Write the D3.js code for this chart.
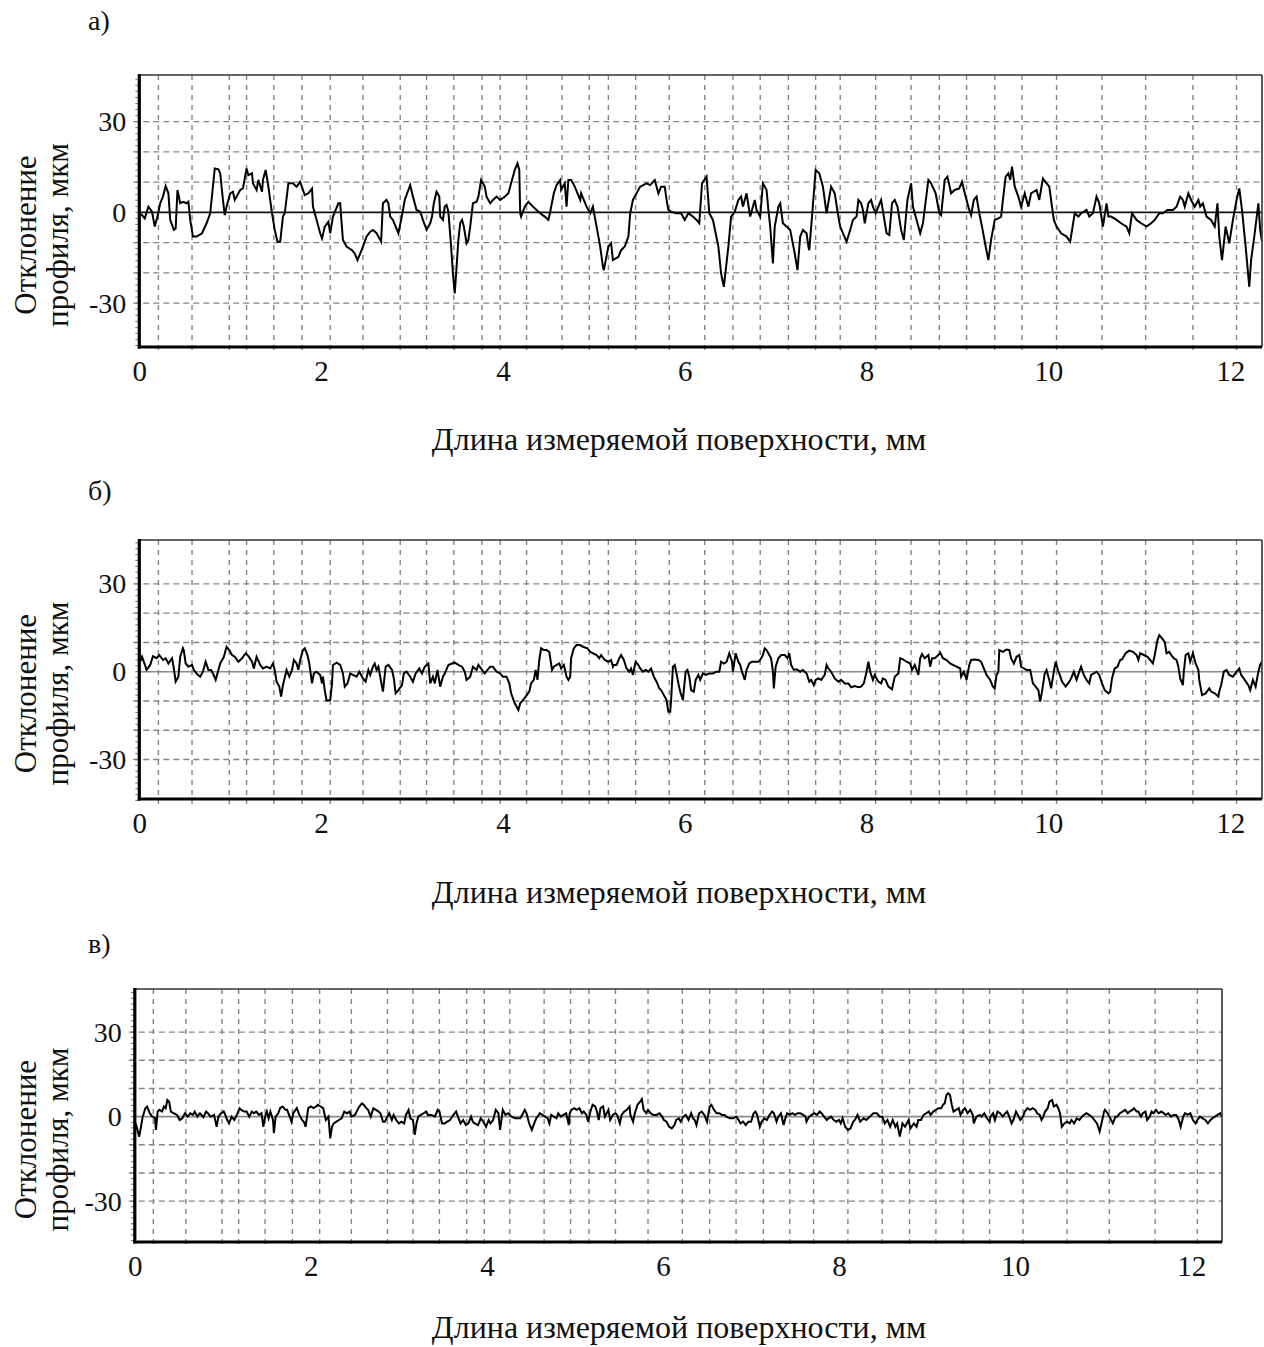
<!DOCTYPE html>
<html lang="ru">
<head>
<meta charset="utf-8">
<script src="https://cdn.jsdelivr.net/npm/d3@7"></script>
<style>
  html, body { margin: 0; padding: 0; background: #fff; }
  svg { display: block; }
  text { font-family: "Liberation Serif", "Times New Roman", serif; fill: #111; }
</style>
</head>
<body>
<svg id="chart" width="1264" height="1347"></svg>
<script>
// Surface profile traces: [position along surface, mm ; profile deviation, µm]
const profileA = [
[0.00,-0.3],[0.03,-0.9],[0.06,-2.0],[0.10,1.9],[0.14,0.2],[0.17,-4.7],[0.20,-1.4],[0.23,3.0],[0.26,5.2],[0.29,8.7],[0.32,6.3],[0.34,-2.5],[0.38,-5.8],[0.40,-5.3],[0.42,7.4],[0.45,3.0],[0.48,3.5],[0.52,3.0],[0.54,3.5],[0.56,-2.5],[0.59,-8.0],[0.63,-8.0],[0.69,-6.9],[0.74,-3.6],[0.78,-0.3],[0.81,8.5],[0.83,14.5],[0.87,14.2],[0.89,12.9],[0.92,4.1],[0.94,-0.9],[0.96,1.9],[1.00,6.3],[1.03,6.8],[1.05,4.1],[1.11,7.4],[1.14,7.9],[1.18,14.5],[1.20,12.3],[1.24,12.9],[1.25,9.6],[1.29,7.4],[1.31,10.7],[1.35,6.8],[1.36,10.7],[1.39,14.0],[1.42,8.5],[1.46,-0.3],[1.49,-5.8],[1.52,-9.7],[1.55,-9.7],[1.58,-1.4],[1.60,-0.3],[1.64,9.6],[1.69,9.6],[1.73,8.5],[1.77,10.1],[1.80,7.4],[1.82,5.7],[1.86,6.3],[1.90,7.9],[1.91,1.9],[1.94,-1.4],[1.97,-4.7],[1.99,-6.9],[2.01,-8.6],[2.04,-4.7],[2.08,-3.1],[2.10,-6.9],[2.13,-1.4],[2.19,3.0],[2.21,3.0],[2.22,-1.4],[2.24,-9.1],[2.28,-11.3],[2.34,-12.5],[2.37,-13.6],[2.40,-15.8],[2.43,-13.6],[2.46,-11.3],[2.50,-8.0],[2.54,-6.4],[2.57,-5.8],[2.61,-6.9],[2.65,-9.1],[2.66,-9.7],[2.68,3.0],[2.72,4.1],[2.74,3.0],[2.76,-1.4],[2.79,-2.5],[2.85,-6.9],[2.88,-2.5],[2.92,4.1],[2.96,7.4],[2.98,9.0],[3.01,5.2],[3.05,0.8],[3.09,0.2],
[3.12,-2.5],[3.16,-5.8],[3.20,-3.6],[3.22,-1.4],[3.24,3.0],[3.27,6.8],[3.30,5.2],[3.31,-1.4],[3.34,-2.5],[3.36,1.9],[3.38,2.4],[3.40,0.2],[3.43,-11.3],[3.45,-20.2],[3.47,-26.8],[3.49,-18.0],[3.51,-9.1],[3.53,-3.6],[3.55,-2.5],[3.57,-4.7],[3.60,-10.2],[3.62,-9.1],[3.64,-4.7],[3.67,3.0],[3.71,3.5],[3.73,5.2],[3.76,10.7],[3.80,8.5],[3.82,5.2],[3.86,3.0],[3.89,4.1],[3.93,5.2],[3.97,4.1],[4.02,5.2],[4.06,6.3],[4.09,9.6],[4.13,14.0],[4.16,16.2],[4.18,14.0],[4.19,-0.3],[4.20,-1.4],[4.24,1.9],[4.28,3.5],[4.33,1.9],[4.37,0.8],[4.41,-0.3],[4.46,-1.4],[4.50,-2.5],[4.52,0.2],[4.56,6.3],[4.59,9.0],[4.63,10.7],[4.64,7.4],[4.68,9.6],[4.70,1.9],[4.72,10.7],[4.75,10.7],[4.79,8.5],[4.85,4.1],[4.86,6.3],[4.92,1.9],[4.96,-0.3],[4.99,1.9],[5.03,-4.7],[5.07,-11.3],[5.10,-18.0],[5.11,-19.1],[5.16,-11.3],[5.19,-10.2],[5.21,-15.8],[5.27,-14.7],[5.30,-12.5],[5.34,-11.3],[5.38,-8.0],[5.40,-0.3],[5.43,4.1],[5.47,6.3],[5.51,8.5],[5.58,9.6],[5.62,9.0],[5.67,10.7],[5.71,6.3],[5.74,8.5],[5.78,8.5],[5.80,4.1],[5.82,0.8],[5.85,0.2],[5.91,-0.3],[5.96,-0.3],[6.00,-2.5],[6.04,-0.3],[6.09,-1.4],[6.13,-2.5],[6.16,-3.6],[6.19,9.6],[6.24,11.8],[6.27,-0.3],[6.31,-2.5],[6.37,-11.3],[6.40,-20.2],[6.43,-24.6],[6.48,-11.3],[6.51,-1.4],[6.55,0.2],[6.59,4.1],[6.62,5.2],[6.64,1.9],[6.68,6.3],[6.72,-1.4],[6.77,4.1],[6.79,0.8],[6.83,-1.4],[6.86,9.6],[6.90,7.4],[6.92,0.8],[6.94,-4.7],[6.97,-16.9],[6.99,-4.7],[7.03,1.9],[7.05,3.0],[7.08,-3.6],[7.12,-4.7],[7.16,-5.8],[7.21,-13.6],[7.24,-19.1],[7.27,-8.0],[7.30,-5.8],[7.34,-6.9],[7.36,-11.3],[7.37,-12.5],[7.40,-1.4],[7.44,14.0],[7.48,12.9],[7.52,8.5],[7.56,-0.3],[7.61,8.5],[7.65,6.3],[7.69,-1.4],
[7.71,-4.7],[7.74,-6.9],[7.78,-9.7],[7.82,-5.8],[7.85,-2.5],[7.89,-1.4],[7.91,4.1],[7.94,3.0],[7.96,0.8],[7.98,-3.6],[8.02,3.0],[8.05,4.1],[8.07,1.9],[8.10,-0.3],[8.13,1.9],[8.16,4.1],[8.22,-6.9],[8.25,-7.5],[8.28,3.0],[8.31,4.1],[8.34,1.9],[8.38,-5.8],[8.41,-9.1],[8.45,4.1],[8.49,9.6],[8.51,1.9],[8.57,-4.7],[8.59,-6.9],[8.62,-3.6],[8.68,10.7],[8.71,9.6],[8.76,6.3],[8.80,-0.3],[8.82,-0.9],[8.86,10.7],[8.89,11.8],[8.93,6.3],[8.97,7.4],[9.02,7.9],[9.05,10.1],[9.09,5.2],[9.13,0.8],[9.15,-0.9],[9.18,4.1],[9.21,5.2],[9.24,-0.3],[9.27,-4.7],[9.31,-11.3],[9.34,-15.8],[9.37,-9.1],[9.41,-2.5],[9.45,-2.0],[9.48,-1.4],[9.50,4.1],[9.53,11.8],[9.56,12.9],[9.58,10.7],[9.60,15.1],[9.63,8.5],[9.67,5.2],[9.70,1.9],[9.74,6.3],[9.78,1.9],[9.81,6.3],[9.87,7.4],[9.90,4.1],[9.94,11.2],[9.98,9.6],[10.01,8.5],[10.06,-2.5],[10.09,-4.7],[10.14,-6.9],[10.20,-8.0],[10.24,-9.7],[10.29,-0.3],[10.33,-1.4],[10.36,-0.3],[10.42,0.8],[10.45,-1.4],[10.49,-0.3],[10.53,5.2],[10.56,3.0],[10.60,-4.7],[10.64,3.0],[10.66,-1.4],[10.69,-1.4],[10.75,-2.5],[10.80,-3.6],[10.86,-4.7],[10.89,-6.9],[10.92,-0.3],[10.97,-2.5],[11.02,-3.6],[11.08,-4.7],[11.13,-3.6],[11.17,-2.5],[11.22,-0.3],[11.26,-0.3],[11.31,0.8],[11.37,0.8],[11.41,1.9],[11.45,5.2],[11.48,4.1],[11.50,1.9],[11.54,6.3],[11.57,4.1],[11.61,1.9],[11.65,4.1],[11.67,1.9],[11.70,3.0],[11.74,-1.4],[11.79,-2.5],[11.83,-4.7],[11.86,3.0],[11.88,-8.0],[11.91,-15.8],[11.95,-4.7],[11.99,-10.2],[12.03,-2.5],[12.07,4.1],[12.10,7.9],[12.13,0.8],[12.17,-11.3],[12.21,-24.6],[12.23,-15.8],[12.27,-6.9],[12.31,3.0],[12.33,-5.8],[12.35,-9.7]
];

const profileB = [
[0.01,3.4],[0.03,5.1],[0.05,3.4],[0.08,0.6],[0.12,2.3],[0.15,5.3],[0.19,4.6],[0.22,5.7],[0.26,4.0],[0.29,4.6],[0.32,2.8],[0.36,4.6],[0.38,1.1],[0.40,-3.4],[0.43,-1.7],[0.45,5.1],[0.48,8.0],[0.49,7.2],[0.51,2.8],[0.54,1.7],[0.58,2.3],[0.60,0.6],[0.63,-0.6],[0.67,-1.7],[0.70,0.0],[0.73,3.4],[0.76,0.6],[0.79,0.6],[0.81,-0.6],[0.84,-2.8],[0.87,0.6],[0.89,2.8],[0.93,5.1],[0.96,8.5],[0.99,7.4],[1.02,5.7],[1.05,5.1],[1.09,3.4],[1.13,4.6],[1.17,6.3],[1.20,5.3],[1.24,3.4],[1.26,1.1],[1.29,5.1],[1.33,2.3],[1.36,1.1],[1.40,1.7],[1.44,1.1],[1.47,2.8],[1.49,0.6],[1.51,-3.4],[1.54,-5.1],[1.56,-8.5],[1.58,-4.6],[1.62,0.6],[1.65,-1.7],[1.68,0.6],[1.70,4.0],[1.73,2.8],[1.75,0.6],[1.77,4.0],[1.80,7.4],[1.82,8.0],[1.85,5.7],[1.87,2.8],[1.90,-4.0],[1.92,-0.6],[1.95,0.0],[1.99,-1.1],[2.01,-4.0],[2.02,-1.7],[2.04,-6.3],[2.06,-9.9],[2.10,-9.7],[2.12,-4.0],[2.13,2.3],[2.17,3.1],[2.21,2.3],[2.24,-0.6],[2.26,-5.1],[2.29,-4.0],[2.32,-0.6],[2.35,-1.1],[2.39,-1.7],[2.42,0.0],[2.46,-2.3],[2.49,-3.4],[2.52,0.6],[2.54,-1.1],[2.57,1.7],[2.59,2.8],[2.61,0.6],[2.63,1.7],[2.65,-1.7],[2.68,-6.8],[2.71,1.7],[2.74,2.3],[2.78,0.6],[2.80,-2.3],[2.82,-7.4],[2.85,-6.3],[2.89,-4.6],[2.91,-0.6],[2.94,0.0],[2.98,-1.7],[3.01,-3.4],[3.04,-0.6],[3.08,1.1],[3.11,-0.6],[3.14,1.7],[3.18,2.8],[3.20,-4.0],[3.23,-1.7],[3.25,-4.0],[3.28,0.6],[3.31,-5.1],[3.34,-1.7],[3.36,-0.6],[3.40,2.3],[3.44,2.8],[3.47,3.1],[3.51,2.3],[3.55,1.7],[3.58,0.0],[3.60,-2.8],[3.64,-1.7],[3.67,1.7],[3.71,0.6],[3.73,2.3],[3.77,0.6],[3.80,-0.6],[3.83,0.6],[3.86,1.7],[3.89,1.7],[3.93,0.0],[3.97,-0.6],[4.00,-1.7],[4.04,-1.7],[4.07,-4.0],[4.09,-7.4],[4.13,-10.8],[4.17,-13.1],
[4.19,-10.8],[4.22,-9.7],[4.25,-8.5],[4.29,-6.8],[4.31,-4.0],[4.34,-2.8],[4.36,0.6],[4.38,-2.8],[4.40,4.0],[4.42,8.0],[4.45,7.4],[4.48,7.4],[4.51,6.8],[4.54,0.6],[4.56,1.7],[4.59,2.3],[4.62,2.8],[4.64,1.1],[4.67,2.3],[4.70,-1.7],[4.72,-2.8],[4.74,-1.7],[4.75,4.6],[4.78,8.0],[4.81,9.1],[4.85,9.1],[4.88,8.5],[4.93,8.0],[4.96,6.8],[4.99,6.3],[5.03,5.7],[5.06,4.6],[5.08,5.7],[5.12,4.0],[5.16,3.4],[5.19,4.0],[5.21,1.7],[5.22,2.3],[5.25,2.3],[5.28,4.6],[5.30,5.7],[5.33,4.0],[5.36,1.1],[5.39,0.0],[5.41,1.1],[5.43,-1.1],[5.46,3.4],[5.49,2.3],[5.51,1.1],[5.54,0.0],[5.57,0.6],[5.60,0.0],[5.63,1.1],[5.66,-1.7],[5.69,-3.4],[5.72,-5.7],[5.74,-6.3],[5.77,-8.0],[5.80,-9.7],[5.82,-13.7],[5.84,-13.7],[5.85,-9.7],[5.87,1.7],[5.89,2.3],[5.91,-0.6],[5.93,-4.0],[5.95,-6.8],[5.98,-9.7],[5.99,-6.3],[6.01,0.0],[6.03,0.6],[6.05,-1.7],[6.07,-6.3],[6.10,-6.8],[6.12,-2.8],[6.15,-1.1],[6.17,-2.8],[6.20,-0.6],[6.23,-1.1],[6.27,-0.6],[6.31,-0.6],[6.35,0.0],[6.38,0.0],[6.40,3.4],[6.43,2.8],[6.46,3.4],[6.49,6.3],[6.52,3.4],[6.53,0.0],[6.56,6.3],[6.59,3.4],[6.61,2.3],[6.63,0.0],[6.66,-2.8],[6.68,0.6],[6.71,2.8],[6.74,3.4],[6.77,3.4],[6.81,3.4],[6.83,4.0],[6.86,5.7],[6.88,8.0],[6.90,7.4],[6.93,5.7],[6.95,4.6],[6.97,0.0],[6.98,-5.7],[7.00,1.7],[7.03,4.6],[7.06,5.7],[7.10,5.7],[7.13,4.6],[7.15,6.3],[7.17,2.3],[7.20,0.6],[7.23,0.8],[7.27,0.0],[7.30,0.6],[7.34,-0.6],[7.37,-3.4],[7.39,-2.8],[7.42,-4.6],[7.44,-2.8],[7.47,-2.3],[7.50,-2.8],[7.54,-1.1],[7.56,2.3],[7.58,1.1],[7.61,0.0],[7.65,-2.3],[7.69,-3.4],[7.72,-2.8],[7.76,-4.0],[7.80,-4.0],[7.83,-5.3],[7.87,-4.9],[7.91,-5.3],[7.94,-5.1],[7.97,-4.0],[8.00,0.0],[8.02,3.4],[8.04,0.0],[8.07,-2.8],[8.09,-1.1],[8.13,-3.4],[8.16,-4.0],[8.18,-2.3],[8.21,-2.8],[8.24,-5.1],
[8.28,-6.0],[8.31,-1.7],[8.35,-0.6],[8.37,4.6],[8.40,4.2],[8.44,3.4],[8.48,2.8],[8.50,0.6],[8.53,2.3],[8.57,-1.1],[8.59,4.6],[8.61,6.0],[8.64,4.6],[8.68,5.7],[8.70,1.7],[8.72,4.6],[8.75,4.6],[8.79,5.7],[8.81,6.5],[8.84,4.6],[8.88,4.0],[8.92,2.8],[8.95,2.3],[8.99,1.7],[9.03,1.1],[9.04,-1.7],[9.07,0.0],[9.10,-2.8],[9.13,2.3],[9.15,4.0],[9.19,4.2],[9.23,4.0],[9.26,3.4],[9.29,1.1],[9.32,-1.1],[9.36,-2.8],[9.39,-5.1],[9.41,-5.7],[9.43,-1.1],[9.45,0.0],[9.46,7.4],[9.50,6.8],[9.54,7.6],[9.57,7.4],[9.59,4.6],[9.62,2.8],[9.65,5.1],[9.68,5.7],[9.70,1.7],[9.73,1.1],[9.76,0.6],[9.80,0.6],[9.83,-4.0],[9.86,-5.1],[9.89,-6.3],[9.91,-10.2],[9.93,-6.8],[9.96,-0.6],[9.98,0.6],[10.01,-2.8],[10.03,-5.7],[10.06,0.0],[10.08,3.4],[10.11,0.0],[10.12,-0.6],[10.15,-3.4],[10.19,-5.1],[10.23,-3.4],[10.25,-2.3],[10.28,0.0],[10.31,-2.8],[10.34,0.0],[10.36,1.7],[10.39,-1.1],[10.42,-2.8],[10.45,-4.0],[10.47,-1.1],[10.50,-0.6],[10.53,0.0],[10.56,-1.1],[10.59,-4.0],[10.62,-6.3],[10.66,-7.4],[10.68,-6.8],[10.70,-2.3],[10.73,1.1],[10.76,1.7],[10.79,4.0],[10.81,4.2],[10.85,6.3],[10.89,7.2],[10.93,6.8],[10.97,5.7],[10.99,4.0],[11.01,6.3],[11.05,5.7],[11.09,5.1],[11.12,4.0],[11.15,2.8],[11.17,5.7],[11.20,10.8],[11.22,12.5],[11.25,11.4],[11.28,10.2],[11.30,6.3],[11.33,6.8],[11.35,5.7],[11.38,4.6],[11.41,4.0],[11.43,1.7],[11.45,-2.3],[11.48,-4.6],[11.49,0.0],[11.51,5.7],[11.54,6.3],[11.56,3.4],[11.59,6.3],[11.62,2.8],[11.65,0.6],[11.66,-2.8],[11.69,-8.0],[11.73,-7.4],[11.77,-5.7],[11.79,-6.8],[11.83,-7.4],[11.87,-8.5],[11.88,-6.8],[11.90,-4.6],[11.93,0.0],[11.96,0.6],[11.99,-1.1],[12.03,-1.7],[12.07,0.0],[12.10,1.1],[12.12,-1.1],[12.16,-2.8],[12.20,-4.6],[12.22,-6.3],[12.25,-2.8],[12.28,-5.1],[12.31,0.0],[12.33,2.3],[12.36,4.0]
];

const profileC = [
[0.01,-2.4],[0.03,-4.7],[0.05,-7.1],[0.07,-3.6],[0.09,0.0],[0.12,3.0],[0.14,3.6],[0.17,1.2],[0.20,0.0],[0.23,-0.6],[0.24,-4.7],[0.26,1.8],[0.28,2.4],[0.31,1.8],[0.33,3.6],[0.35,3.0],[0.37,5.9],[0.39,5.3],[0.41,1.8],[0.44,1.2],[0.48,0.6],[0.51,-1.2],[0.54,-0.6],[0.57,1.2],[0.60,0.0],[0.63,1.2],[0.66,0.6],[0.68,1.8],[0.71,0.0],[0.74,1.2],[0.78,-0.2],[0.81,1.8],[0.83,1.2],[0.86,0.0],[0.90,0.6],[0.93,-3.6],[0.95,0.0],[0.98,1.2],[1.01,1.8],[1.02,1.2],[1.05,-1.2],[1.07,-2.4],[1.10,0.0],[1.13,-1.2],[1.16,0.6],[1.19,3.0],[1.21,2.4],[1.24,1.8],[1.27,1.8],[1.30,0.0],[1.33,1.8],[1.35,1.2],[1.38,1.8],[1.41,0.6],[1.44,1.2],[1.46,-3.6],[1.48,0.0],[1.50,1.8],[1.52,-0.6],[1.54,1.8],[1.57,-1.2],[1.58,-5.9],[1.60,0.0],[1.63,1.2],[1.65,3.0],[1.68,3.6],[1.71,2.4],[1.73,2.4],[1.76,0.0],[1.78,-1.8],[1.80,1.2],[1.84,3.0],[1.87,0.6],[1.90,-1.2],[1.92,-1.8],[1.94,-3.6],[1.97,3.0],[2.00,3.6],[2.03,3.0],[2.06,3.6],[2.08,4.2],[2.11,3.6],[2.14,3.0],[2.17,-1.2],[2.20,0.0],[2.22,-7.7],[2.24,-3.6],[2.26,-2.4],[2.29,-1.8],[2.32,-1.2],[2.35,-0.6],[2.38,1.8],[2.41,1.2],[2.44,1.8],[2.46,0.0],[2.50,0.6],[2.53,2.4],[2.55,3.6],[2.58,4.7],[2.60,4.2],[2.63,3.0],[2.65,2.4],[2.68,0.0],[2.71,3.0],[2.74,2.4],[2.77,1.8],[2.79,1.2],[2.82,-1.8],[2.84,-1.8],[2.87,0.0],[2.89,1.2],[2.92,-1.2],[2.94,0.6],[2.97,-1.2],[3.00,-2.4],[3.03,-1.8],[3.06,-2.4],[3.08,0.6],[3.11,2.4],[3.13,-0.6],[3.16,-1.2],[3.18,-6.5],[3.20,-2.4],[3.22,0.0],[3.25,0.6],[3.28,1.2],[3.31,1.8],[3.33,0.6],[3.37,0.6],[3.41,0.0],[3.44,2.4],[3.46,1.8],[3.49,-2.4],[3.52,-2.4],[3.55,-1.8],[3.58,-1.2],[3.62,0.6],[3.65,1.8],[3.67,0.0],[3.70,-2.4],[3.73,-1.2],[3.76,-3.0],[3.79,-2.4],[3.82,0.0],[3.84,-1.8],[3.86,-2.4],[3.90,-3.0],[3.93,-0.6],[3.96,-1.8],[3.99,-3.6],[4.02,-1.2],[4.04,-2.4],[4.07,-1.2],[4.10,2.4],[4.13,1.2],[4.15,-4.7],[4.18,2.4],[4.21,0.6],[4.24,1.2],[4.28,0.0],[4.32,-0.6],[4.36,-0.6],
[4.38,-0.6],[4.41,1.2],[4.43,2.4],[4.45,1.2],[4.48,-2.4],[4.51,-4.7],[4.53,-3.0],[4.56,-0.6],[4.59,0.6],[4.60,1.2],[4.63,0.6],[4.66,0.0],[4.69,-0.6],[4.71,-2.4],[4.73,0.6],[4.76,0.0],[4.79,-0.6],[4.81,1.2],[4.84,0.0],[4.87,0.6],[4.90,1.2],[4.93,-3.0],[4.94,1.2],[4.96,2.4],[4.99,3.0],[5.02,2.4],[5.05,3.0],[5.08,1.2],[5.10,1.8],[5.13,0.6],[5.15,-1.8],[5.17,1.2],[5.20,4.2],[5.23,3.6],[5.25,1.8],[5.27,-1.2],[5.29,3.0],[5.32,3.6],[5.34,0.0],[5.36,1.2],[5.38,2.4],[5.40,-1.2],[5.43,0.6],[5.46,1.2],[5.48,0.6],[5.51,-2.4],[5.53,0.6],[5.56,1.8],[5.59,2.4],[5.62,3.6],[5.63,0.6],[5.66,-1.8],[5.68,1.2],[5.71,4.2],[5.74,5.3],[5.76,6.2],[5.78,2.4],[5.81,1.2],[5.83,2.4],[5.86,1.2],[5.89,0.6],[5.93,0.6],[5.96,1.2],[5.99,0.0],[6.01,-1.2],[6.04,-1.8],[6.07,-3.6],[6.10,-4.2],[6.13,-3.0],[6.15,-1.2],[6.18,-0.6],[6.20,-1.8],[6.23,0.0],[6.26,0.6],[6.29,-1.2],[6.32,1.2],[6.34,-0.6],[6.36,-1.2],[6.38,-3.0],[6.41,1.2],[6.44,1.8],[6.47,0.6],[6.50,-1.8],[6.53,3.6],[6.55,4.2],[6.58,2.4],[6.61,1.2],[6.64,1.2],[6.67,0.6],[6.70,0.6],[6.72,0.0],[6.76,-0.6],[6.80,-0.6],[6.83,0.0],[6.86,-1.2],[6.88,-2.4],[6.91,-1.8],[6.94,-3.0],[6.97,-1.8],[7.00,-1.8],[7.03,1.2],[7.05,1.8],[7.07,0.6],[7.10,-3.6],[7.12,-1.8],[7.15,-0.6],[7.18,-1.2],[7.21,0.6],[7.24,1.8],[7.26,1.2],[7.29,-1.8],[7.31,0.0],[7.34,1.2],[7.37,-3.0],[7.39,-0.6],[7.41,1.2],[7.44,0.6],[7.47,1.2],[7.50,0.6],[7.53,1.2],[7.56,1.2],[7.59,0.6],[7.62,0.0],[7.63,-1.8],[7.66,0.0],[7.69,0.6],[7.72,1.2],[7.75,0.6],[7.78,1.8],[7.80,1.2],[7.83,0.0],[7.86,-1.2],[7.88,-0.6],[7.91,0.0],[7.94,-1.2],[7.97,-1.8],[8.00,-1.2],[8.02,-2.4],[8.04,-0.6],[8.07,-3.6],[8.10,-4.7],[8.13,-4.2],[8.16,-1.8],[8.18,-1.2],[8.21,0.6],
[8.24,-1.8],[8.28,-0.6],[8.31,-1.2],[8.35,0.0],[8.39,1.2],[8.43,1.2],[8.46,0.0],[8.49,0.0],[8.52,-2.4],[8.55,-1.2],[8.58,-3.6],[8.61,-1.2],[8.64,-3.6],[8.66,-2.4],[8.69,-7.1],[8.72,-2.4],[8.75,-3.6],[8.79,-1.2],[8.81,-4.2],[8.85,-2.4],[8.88,-3.6],[8.90,-1.2],[8.93,-1.2],[8.96,0.6],[8.99,1.2],[9.02,1.8],[9.04,0.6],[9.07,1.8],[9.10,2.4],[9.13,3.0],[9.16,3.0],[9.18,4.2],[9.20,4.7],[9.22,7.7],[9.24,8.3],[9.26,7.7],[9.28,4.2],[9.30,1.8],[9.33,2.4],[9.36,3.0],[9.38,0.6],[9.41,2.4],[9.43,3.0],[9.46,1.2],[9.49,2.4],[9.52,0.6],[9.53,-2.4],[9.56,0.0],[9.60,0.6],[9.62,0.0],[9.65,1.2],[9.68,-0.6],[9.71,-1.8],[9.72,0.0],[9.75,1.2],[9.77,-1.2],[9.80,1.8],[9.83,1.2],[9.86,0.0],[9.89,1.2],[9.91,1.8],[9.94,-0.6],[9.96,-2.4],[9.98,-1.2],[10.01,1.8],[10.04,0.0],[10.06,-1.2],[10.09,0.0],[10.11,1.8],[10.14,3.0],[10.17,2.4],[10.20,3.0],[10.23,2.4],[10.25,1.2],[10.28,0.6],[10.30,-1.2],[10.32,0.0],[10.34,1.8],[10.37,3.0],[10.39,5.3],[10.42,5.9],[10.44,3.6],[10.47,4.2],[10.49,3.0],[10.51,1.2],[10.53,-3.6],[10.56,-2.4],[10.59,-1.8],[10.62,-2.4],[10.64,-1.2],[10.67,-2.4],[10.70,-0.6],[10.73,-1.2],[10.76,0.0],[10.78,0.6],[10.81,1.2],[10.84,0.6],[10.87,0.0],[10.90,-1.2],[10.93,-2.4],[10.96,-5.3],[10.99,-1.2],[11.01,1.8],[11.02,2.4],[11.05,1.2],[11.08,-0.6],[11.11,-2.4],[11.14,0.0],[11.16,0.0],[11.19,1.2],[11.22,1.8],[11.25,2.4],[11.28,1.2],[11.30,1.8],[11.33,2.4],[11.35,3.0],[11.38,1.8],[11.40,1.8],[11.43,0.0],[11.45,1.2],[11.48,1.8],[11.50,-1.2],[11.53,0.0],[11.55,1.8],[11.57,1.2],[11.60,2.4],[11.63,1.2],[11.66,1.8],[11.69,1.2],[11.71,0.6],[11.74,1.2],[11.77,0.0],[11.80,0.6],[11.83,0.6],[11.86,-1.2],[11.88,-3.6],[11.91,0.0],[11.93,1.2],[11.96,0.6],[11.99,1.2],[12.02,-1.2],[12.05,-2.4],[12.07,-1.2],[12.10,0.0],[12.13,-0.6],[12.16,-1.2],[12.19,-2.4],[12.22,-1.2],[12.24,-0.6],[12.27,0.0],[12.30,0.6],[12.33,1.2],[12.35,0.0]
];

// Axis values
const xTickValues = [0, 2, 4, 6, 8, 10, 12];
const yTickValues = [-30, 0, 30];
const yGridValues = [-30, -20, -10, 10, 20, 30];
// Vertical grid lines of the profilometer chart, mm
const xGridValues = [0.21, 0.58, 0.99, 1.18, 1.48, 1.79, 2.10, 2.46, 2.87, 3.16, 3.46, 3.77, 3.97, 4.26, 4.65, 4.95, 5.16, 5.46, 5.83, 6.22, 6.53, 6.83, 7.14, 7.44, 7.71, 8.10, 8.49, 8.80, 9.10, 9.41, 9.71, 10.09, 10.59, 11.07, 11.59, 12.07];
const panelLetters = ["а)", "б)", "в)"];
const xTitle = "Длина измеряемой поверхности, мм";
const yTitleLines = ["Отклонение", "профиля, мкм"];

const serif = "'Liberation Serif', 'Times New Roman', serif";

const panels = [
  { data: profileA, letter: panelLetters[0], box: { l: 139.3, r: 1262, t: 75, b: 347 }, yDom: [-44.5, 45.4], zeroColor: "#111", letterY: 30, titleY: 450 },
  { data: profileB, letter: panelLetters[1], box: { l: 139.3, r: 1262, t: 540, b: 799 }, yDom: [-43.5, 45], zeroColor: "#8a8a8a", letterY: 500, titleY: 903 },
  { data: profileC, letter: panelLetters[2], box: { l: 134.8, r: 1222, t: 989, b: 1242 }, yDom: [-44.5, 45.3], zeroColor: "#8a8a8a", letterY: 953, titleY: 1338 }
];

const svg = d3.select("#chart");
svg.append("rect").attr("width", 1264).attr("height", 1347).attr("fill", "#fff");

panels.forEach((p, i) => {
  const { l, r, t, b } = p.box;
  const x = d3.scaleLinear().domain([0, 12.35]).range([l, r]);
  const y = d3.scaleLinear().domain(p.yDom).range([b, t]);
  const g = svg.append("g");

  // dashed grid
  g.selectAll(".hgrid").data(yGridValues).join("line")
    .attr("x1", l - 6).attr("x2", r)
    .attr("y1", d => y(d)).attr("y2", d => y(d))
    .attr("stroke", "#858585").attr("stroke-width", 1.4).attr("stroke-dasharray", "6,4");
  g.selectAll(".vgrid").data(xGridValues).join("line")
    .attr("x1", d => x(d)).attr("x2", d => x(d))
    .attr("y1", t).attr("y2", b + 5)
    .attr("stroke", "#858585").attr("stroke-width", 1.4).attr("stroke-dasharray", "5,5");

  // minor ticks along the left axis
  g.selectAll(".minor").data(d3.range(-44, 46, 2)).join("line")
    .attr("x1", l - 4).attr("x2", l)
    .attr("y1", d => y(d)).attr("y2", d => y(d))
    .attr("stroke", "#777").attr("stroke-width", 1);

  // zero line
  g.append("line").attr("x1", l).attr("x2", r).attr("y1", y(0)).attr("y2", y(0))
    .attr("stroke", p.zeroColor).attr("stroke-width", 1.6);

  // profile trace
  const clipId = "clip" + i;
  svg.append("clipPath").attr("id", clipId).append("rect")
    .attr("x", l).attr("y", t).attr("width", r - l).attr("height", b - t);
  g.append("path").datum(p.data)
    .attr("clip-path", `url(#${clipId})`)
    .attr("fill", "none").attr("stroke", "#000").attr("stroke-width", 2)
    .attr("stroke-linejoin", "miter")
    .attr("d", d3.line().x(d => x(d[0])).y(d => y(d[1])));

  // frame
  g.append("line").attr("x1", l).attr("x2", r).attr("y1", t).attr("y2", t).attr("stroke", "#333").attr("stroke-width", 1.6);
  g.append("line").attr("x1", r).attr("x2", r).attr("y1", t).attr("y2", b).attr("stroke", "#333").attr("stroke-width", 1.6);
  g.append("line").attr("x1", l).attr("x2", l).attr("y1", t - 1).attr("y2", b + 1.5).attr("stroke", "#000").attr("stroke-width", 3.2);
  g.append("line").attr("x1", l - 1.5).attr("x2", r).attr("y1", b).attr("y2", b).attr("stroke", "#000").attr("stroke-width", 3.2);

  // y axis labels
  const ya = g.append("g").attr("transform", `translate(${l},0)`)
    .call(d3.axisLeft(y).tickValues(yTickValues).tickSize(0).tickPadding(13).tickFormat(d => String(d)));
  ya.attr("font-family", serif).attr("font-size", 28);
  ya.select(".domain").remove();
  ya.selectAll("text").style("font-family", serif).style("font-size", "28px").attr("fill", "#111");

  // x axis labels
  const xa = g.append("g").attr("transform", `translate(0,${b})`)
    .call(d3.axisBottom(x).tickValues(xTickValues).tickSize(0).tickPadding(13).tickFormat(d => String(d)));
  xa.attr("font-family", serif).attr("font-size", 29);
  xa.select(".domain").remove();
  xa.selectAll("text").style("font-family", serif).style("font-size", "29px").attr("fill", "#111");

  // panel letter
  svg.append("text").attr("x", 88).attr("y", p.letterY).style("font-size", "28px").text(p.letter);

  // axis titles
  svg.append("text").attr("x", 679).attr("y", p.titleY).attr("text-anchor", "middle")
    .style("font-size", "32px").text(xTitle);
  const cy = (t + b) / 2 + 24;
  yTitleLines.forEach((line, k) => {
    svg.append("text")
      .attr("transform", `translate(${36 + k * 32},${cy}) rotate(-90)`)
      .attr("text-anchor", "middle")
      .style("font-size", "31px").text(line);
  });
});
</script>
</body>
</html>
